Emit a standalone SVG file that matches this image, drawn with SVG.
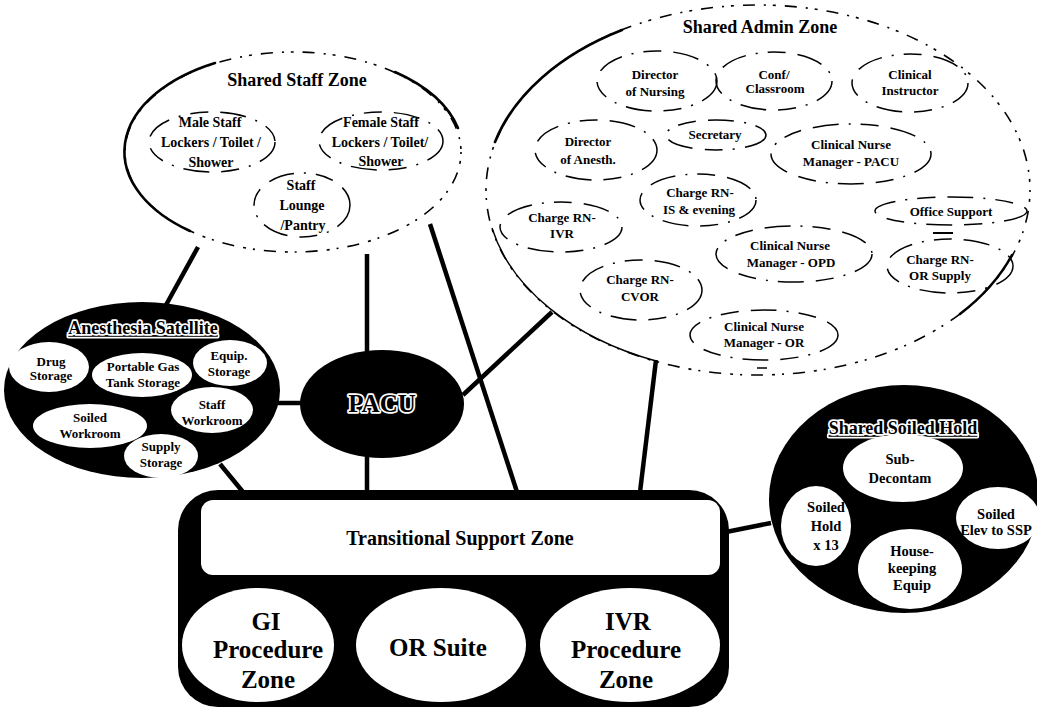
<svg xmlns="http://www.w3.org/2000/svg" width="1037" height="708" viewBox="0 0 1037 708">
  <style>
    text { font-family: "Liberation Serif", "DejaVu Serif", serif; font-weight: bold; text-anchor: middle; fill: #000; }
    .dots { fill: none; stroke: #000; stroke-width: 1.6; stroke-dasharray: 2 7 3 9 12 9; }
    .rim { fill: none; stroke: #000; stroke-width: 2.6; stroke-linecap: round; }
    .rim-thin { fill: none; stroke: #000; stroke-width: 1.4; }
    .room { fill: none; stroke: #000; stroke-width: 1.5; stroke-dasharray: 26 10 2 10 18 12; }
    .solid { fill: #000; }
    .hole { fill: #fff; }
    .wire { stroke: #000; stroke-width: 4.5; fill: none; }
    .title { font-size: 18px; }
    .s14 { font-size: 14px; }
    .s13 { font-size: 13px; }
    .s145 { font-size: 14.5px; }
    .halo { stroke: #fff; stroke-width: 3.5; paint-order: stroke; stroke-linejoin: round; }
    .big { font-size: 25px; }
  </style>

  <rect width="1037" height="708" fill="#fff"/>

  <!-- connectors -->
  <g id="connectors">
    <line class="wire" x1="198" y1="247" x2="166" y2="305"/>
    <line class="wire" x1="367" y1="254" x2="367" y2="352"/>
    <line class="wire" x1="430" y1="224" x2="517" y2="492"/>
    <line class="wire" x1="552" y1="312" x2="463" y2="395"/>
    <line class="wire" x1="656" y1="360" x2="640" y2="492"/>
    <line class="wire" x1="277" y1="403" x2="302" y2="403"/>
    <line class="wire" x1="367" y1="456" x2="367" y2="492"/>
    <line class="wire" x1="220" y1="464" x2="243" y2="492"/>
    <line class="wire" x1="726" y1="532" x2="771" y2="523"/>
  </g>

  <!-- Shared Staff Zone -->
  <g id="shared-staff-zone">
    <ellipse class="dots" cx="293" cy="152" rx="168" ry="100"/>
    <path class="rim" d="M 215 63 A 168 100 0 0 0 190 231"/>
    <path class="rim" d="M 395 72 A 168 100 0 0 1 458 128"/>
    <text class="title" x="297" y="86">Shared Staff Zone</text>
    <g id="male-staff">
      <ellipse class="room" cx="212" cy="142" rx="63" ry="30"/>
      <text class="s14" x="210" y="127">Male Staff</text>
      <text class="s14" x="211" y="147">Lockers / Toilet /</text>
      <text class="s14" x="211" y="167">Shower</text>
    </g>
    <g id="female-staff">
      <ellipse class="room" cx="381" cy="141" rx="62" ry="29"/>
      <text class="s14" x="381" y="127">Female Staff</text>
      <text class="s14" x="380" y="147">Lockers / Toilet/</text>
      <text class="s14" x="381" y="166">Shower</text>
    </g>
    <g id="staff-lounge">
      <ellipse class="room" cx="302" cy="205" rx="48" ry="32"/>
      <text class="s14" x="301" y="190">Staff</text>
      <text class="s14" x="302" y="210">Lounge</text>
      <text class="s14" x="303" y="230">/Pantry</text>
    </g>
  </g>

  <!-- Shared Admin Zone -->
  <g id="shared-admin-zone">
    <ellipse class="dots" cx="758" cy="190" rx="272" ry="185"/>
    <path class="rim" d="M 495 142 A 272 185 0 0 1 622 30"/>
    <path class="rim-thin" d="M 492 228 A 272 185 0 0 0 656 361"/>
    <path class="rim" d="M 1012 255 A 272 185 0 0 1 960 314"/>
    <text class="title" x="760" y="33">Shared Admin Zone</text>
    <g id="director-nursing">
      <ellipse class="room" cx="657" cy="81" rx="60" ry="30"/>
      <text class="s13" x="655" y="79">Director</text>
      <text class="s13" x="655" y="96">of Nursing</text>
    </g>
    <g id="conf-classroom">
      <ellipse class="room" cx="774" cy="81" rx="58" ry="29"/>
      <text class="s13" x="774" y="79">Conf/</text>
      <text class="s13" x="775" y="93">Classroom</text>
    </g>
    <g id="clinical-instructor">
      <ellipse class="room" cx="910" cy="83" rx="58" ry="29"/>
      <text class="s13" x="910" y="79">Clinical</text>
      <text class="s13" x="910" y="95">Instructor</text>
    </g>
    <g id="director-anesth">
      <ellipse class="room" cx="596" cy="150" rx="61" ry="30"/>
      <text class="s13" x="588" y="146">Director</text>
      <text class="s13" x="588" y="164">of Anesth.</text>
    </g>
    <g id="secretary">
      <ellipse class="room" cx="716" cy="135" rx="50" ry="15"/>
      <text class="s13" x="715" y="139">Secretary</text>
    </g>
    <g id="cnm-pacu">
      <ellipse class="room" cx="851" cy="154" rx="80" ry="30"/>
      <text class="s13" x="851" y="149">Clinical Nurse</text>
      <text class="s13" x="851" y="166">Manager - PACU</text>
    </g>
    <g id="charge-is">
      <ellipse class="room" cx="698" cy="200" rx="58" ry="26"/>
      <text class="s13" x="700" y="197">Charge RN-</text>
      <text class="s13" x="699" y="214">IS &amp; evening</text>
    </g>
    <g id="charge-ivr">
      <ellipse class="room" cx="561" cy="227" rx="61" ry="25"/>
      <text class="s13" x="562" y="222">Charge RN-</text>
      <text class="s13" x="562" y="238">IVR</text>
    </g>
    <g id="office-support">
      <ellipse class="room" cx="951" cy="211" rx="76" ry="14"/>
      <text class="s13" x="951" y="216">Office Support</text>
    </g>
    <line x1="933" y1="233" x2="953" y2="233" stroke="#000" stroke-width="2"/>
    <g id="cnm-opd">
      <ellipse class="room" cx="794" cy="254" rx="78" ry="28"/>
      <text class="s13" x="790" y="250">Clinical Nurse</text>
      <text class="s13" x="791" y="267">Manager - OPD</text>
    </g>
    <g id="charge-or-supply">
      <ellipse class="room" cx="950" cy="266" rx="63" ry="27"/>
      <text class="s13" x="940" y="264">Charge RN-</text>
      <text class="s13" x="940" y="280">OR Supply</text>
    </g>
    <g id="charge-cvor">
      <ellipse class="room" cx="641" cy="290" rx="61" ry="30"/>
      <text class="s13" x="640" y="284">Charge RN-</text>
      <text class="s13" x="640" y="301">CVOR</text>
    </g>
    <g id="cnm-or">
      <ellipse class="room" cx="764" cy="335" rx="74" ry="25"/>
      <text class="s13" x="764" y="331">Clinical Nurse</text>
      <text class="s13" x="764" y="347">Manager - OR</text>
    </g>
    <line x1="757" y1="368" x2="767" y2="368" stroke="#000" stroke-width="1.5"/>
  </g>

  <!-- Anesthesia Satellite -->
  <g id="anesthesia-satellite">
    <ellipse class="solid" cx="142" cy="390" rx="138" ry="88"/>
    <text class="title halo" x="143" y="334" text-decoration="underline">Anesthesia Satellite</text>
    <g id="drug-storage">
      <ellipse class="hole" cx="49" cy="367" rx="40" ry="25"/>
      <text class="s13" x="51" y="366">Drug</text>
      <text class="s13" x="51" y="380">Storage</text>
    </g>
    <g id="gas-tank-storage">
      <ellipse class="hole" cx="142" cy="375" rx="50" ry="22"/>
      <text class="s13" x="143" y="371">Portable Gas</text>
      <text class="s13" x="143" y="387">Tank Storage</text>
    </g>
    <g id="equip-storage">
      <ellipse class="hole" cx="230" cy="363" rx="37" ry="23"/>
      <text class="s13" x="229" y="360">Equip.</text>
      <text class="s13" x="229" y="376">Storage</text>
    </g>
    <g id="soiled-workroom">
      <ellipse class="hole" cx="90" cy="426" rx="57" ry="22"/>
      <text class="s13" x="90" y="422">Soiled</text>
      <text class="s13" x="90" y="438">Workroom</text>
    </g>
    <g id="staff-workroom">
      <ellipse class="hole" cx="212" cy="410" rx="41" ry="23"/>
      <text class="s13" x="212" y="409">Staff</text>
      <text class="s13" x="212" y="425">Workroom</text>
    </g>
    <g id="supply-storage">
      <ellipse class="hole" cx="161" cy="456" rx="37" ry="22"/>
      <text class="s13" x="161" y="451">Supply</text>
      <text class="s13" x="161" y="467">Storage</text>
    </g>
  </g>

  <!-- PACU -->
  <g id="pacu">
    <ellipse class="solid" cx="382" cy="404" rx="82" ry="54"/>
    <text class="halo" x="382" y="412" font-size="25" stroke-width="4">PACU</text>
  </g>

  <!-- Shared Soiled Hold -->
  <g id="shared-soiled-hold">
    <ellipse class="solid" cx="904" cy="499" rx="135" ry="114"/>
    <text class="title halo" x="903" y="434" text-decoration="underline">Shared Soiled Hold</text>
    <g id="sub-decontam">
      <ellipse class="hole" cx="903" cy="468" rx="60" ry="34"/>
      <text class="s145" x="900" y="464">Sub-</text>
      <text class="s145" x="900" y="483">Decontam</text>
    </g>
    <g id="soiled-hold">
      <ellipse class="hole" cx="816" cy="526" rx="35" ry="40"/>
      <text class="s145" x="826" y="512">Soiled</text>
      <text class="s145" x="826" y="531">Hold</text>
      <text class="s145" x="826" y="550">x 13</text>
    </g>
    <g id="soiled-elev">
      <ellipse class="hole" cx="998" cy="518" rx="42" ry="31"/>
      <text class="s145" x="996" y="519">Soiled</text>
      <text class="s145" x="996" y="535">Elev to SSP</text>
    </g>
    <g id="housekeeping">
      <ellipse class="hole" cx="910" cy="569" rx="52" ry="40"/>
      <text class="s145" x="912" y="556">House-</text>
      <text class="s145" x="912" y="573">keeping</text>
      <text class="s145" x="912" y="590">Equip</text>
    </g>
  </g>

  <!-- Transitional Support Zone block -->
  <g id="procedure-block">
    <rect class="solid" x="178" y="490" width="551" height="217" rx="40"/>
    <g id="transitional-support">
      <rect class="hole" x="201" y="500" width="519" height="75" rx="12"/>
      <text x="460" y="545" font-size="20">Transitional Support Zone</text>
    </g>
    <g id="gi-zone">
      <ellipse class="hole" cx="258" cy="645" rx="76" ry="57"/>
      <text class="big" x="266" y="630">GI</text>
      <text class="big" x="268" y="658">Procedure</text>
      <text class="big" x="268" y="688">Zone</text>
    </g>
    <g id="or-suite">
      <ellipse class="hole" cx="441" cy="645" rx="85" ry="57"/>
      <text class="big" x="438" y="656">OR Suite</text>
    </g>
    <g id="ivr-zone">
      <ellipse class="hole" cx="630" cy="645" rx="90" ry="57"/>
      <text class="big" x="628" y="630">IVR</text>
      <text class="big" x="626" y="658">Procedure</text>
      <text class="big" x="626" y="688">Zone</text>
    </g>
  </g>
</svg>
